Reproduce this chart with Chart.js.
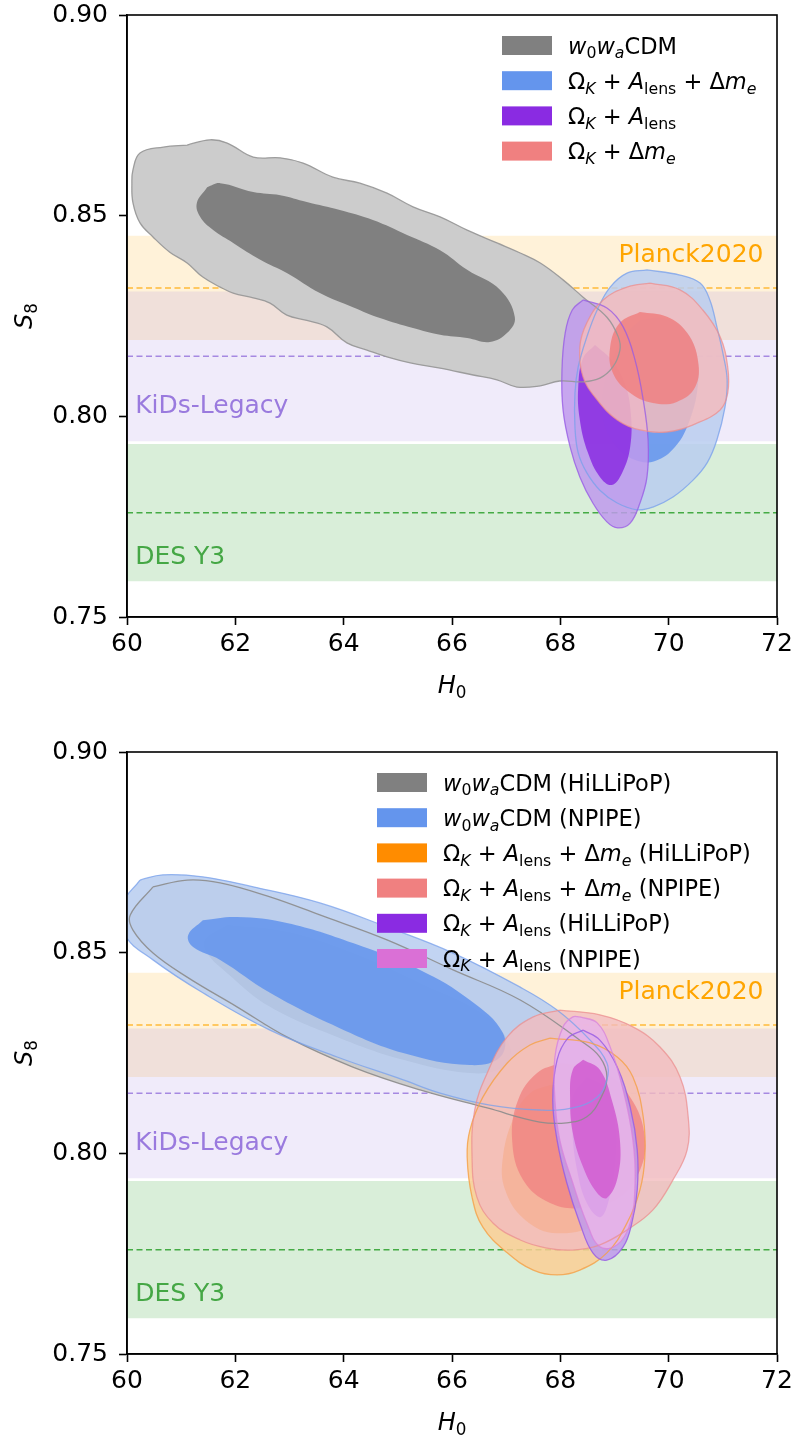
<!DOCTYPE html>
<html>
<head>
<meta charset="utf-8">
<script src="https://cdn.jsdelivr.net/npm/chart.js@4.4.1/dist/chart.umd.min.js"></script>
<style>
  html, body { margin: 0; padding: 0; background: #fff; overflow: hidden; }
  #wrap { position: relative; width: 795px; height: 1441px; overflow: hidden; }
  canvas { position: absolute; left: 0; }
  #top { top: -20px; }
  #bottom { top: 720px; }
</style>
</head>
<body>
<div id="wrap">
  <canvas id="top" width="815" height="740"></canvas>
  <canvas id="bottom" width="815" height="721"></canvas>
</div>
<script>
// axis ranges and ticks
const hRange = [60, 72];
const sRange = [0.75, 0.90];
const hStep = 2;
const sStep = 0.05;

// external S8 constraints (same in both panels)
const bandNames = ["Planck2020", "KiDs-Legacy", "DES Y3"];
const bandCentre = [0.832, 0.815, 0.776];
const bandLow = [0.819, 0.7938, 0.7589];
const bandHigh = [0.845, 0.8311, 0.7931];
const bandLabelH = [71.75, 60.15, 60.15];
const bandLabelS = [0.8385, 0.8008, 0.7632];

// ---- top panel contours, [H0, S8] ----
const w0waOuterTop = [[61.11,0.8676],[61.53,0.8689],[61.85,0.8681],[62.33,0.8646],[62.83,0.8644],[63.25,0.8631],[63.80,0.8596],[64.30,0.8581],[64.80,0.8556],[65.28,0.8522],[65.78,0.8497],[66.28,0.8464],[66.83,0.8432],[67.26,0.8407],[67.63,0.8382],[68.05,0.8340],[68.42,0.8297],[68.86,0.8247],[69.07,0.8198],[69.10,0.8165],[68.97,0.8123],[68.73,0.8095],[68.42,0.8086],[67.99,0.8088],[67.63,0.8076],[67.20,0.8073],[66.83,0.8091],[66.39,0.8103],[65.78,0.8120],[65.23,0.8133],[64.80,0.8148],[64.43,0.8165],[64.06,0.8183],[63.69,0.8223],[63.32,0.8239],[62.95,0.8252],[62.64,0.8282],[62.33,0.8295],[61.96,0.8307],[61.72,0.8322],[61.40,0.8347],[61.11,0.8382],[60.79,0.8409],[60.48,0.8447],[60.24,0.8482],[60.11,0.8532],[60.09,0.8581],[60.11,0.8614],[60.24,0.8656],[60.67,0.8671]];
const w0waInnerTop = [[61.48,0.8571],[61.72,0.8581],[62.33,0.8559],[62.83,0.8551],[63.32,0.8534],[63.93,0.8514],[64.54,0.8489],[65.17,0.8452],[65.78,0.8414],[66.28,0.8365],[66.89,0.8315],[67.16,0.8247],[67.02,0.8208],[66.70,0.8185],[66.28,0.8195],[65.78,0.8203],[65.28,0.8220],[64.67,0.8245],[64.17,0.8272],[63.56,0.8307],[62.95,0.8357],[62.46,0.8390],[61.96,0.8432],[61.59,0.8464],[61.35,0.8497],[61.29,0.8532]];
const okAlDmeOuterTop = [[69.60,0.8365],[70.21,0.8352],[70.58,0.8332],[70.76,0.8290],[70.89,0.8223],[71.00,0.8158],[71.08,0.8091],[71.04,0.8023],[70.89,0.7941],[70.71,0.7884],[70.45,0.7841],[70.08,0.7799],[69.71,0.7774],[69.42,0.7767],[69.05,0.7784],[68.73,0.7816],[68.49,0.7859],[68.33,0.7909],[68.27,0.7973],[68.27,0.8058],[68.33,0.8123],[68.49,0.8198],[68.68,0.8265],[68.92,0.8322],[69.23,0.8357]];
const okAlDmeInnerTop = [[69.47,0.8240],[69.93,0.8245],[70.30,0.8215],[70.52,0.8153],[70.54,0.8078],[70.39,0.7991],[70.12,0.7924],[69.75,0.7889],[69.38,0.7891],[69.01,0.7929],[68.79,0.7991],[68.79,0.8066],[68.95,0.8140],[69.19,0.8203]];
const okAlOuterTop = [[68.42,0.8290],[68.86,0.8270],[69.16,0.8223],[69.38,0.8140],[69.53,0.8041],[69.62,0.7941],[69.60,0.7849],[69.47,0.7784],[69.29,0.7734],[69.06,0.7722],[68.86,0.7737],[68.60,0.7784],[68.36,0.7849],[68.18,0.7924],[68.05,0.8016],[68.03,0.8115],[68.09,0.8208],[68.22,0.8265]];
const okAlInnerTop = [[68.64,0.8178],[68.95,0.8140],[69.19,0.8083],[69.30,0.8008],[69.29,0.7924],[69.14,0.7859],[68.95,0.7829],[68.73,0.7849],[68.51,0.7909],[68.36,0.7991],[68.33,0.8073],[68.42,0.8145]];
const okDmeOuterTop = [[69.66,0.8332],[70.21,0.8315],[70.63,0.8265],[70.95,0.8198],[71.09,0.8123],[71.09,0.8058],[70.95,0.8016],[70.52,0.7983],[69.97,0.7961],[69.47,0.7966],[69.05,0.7991],[68.68,0.8041],[68.42,0.8098],[68.36,0.8173],[68.49,0.8233],[68.79,0.8290],[69.23,0.8322]];
const okDmeInnerTop = [[69.47,0.8260],[69.97,0.8248],[70.34,0.8208],[70.54,0.8140],[70.49,0.8073],[70.15,0.8036],[69.71,0.8033],[69.29,0.8058],[68.97,0.8108],[68.92,0.8173],[69.10,0.8233]];

// ---- bottom panel contours, [H0, S8] ----
const w0waHilOuter = [[60.48,0.8664],[61.11,0.8681],[61.72,0.8674],[62.64,0.8639],[63.56,0.8594],[64.80,0.8532],[66.02,0.8457],[67.26,0.8382],[68.36,0.8282],[68.73,0.8240],[68.86,0.8190],[68.73,0.8133],[68.49,0.8091],[68.12,0.8076],[67.62,0.8078],[66.65,0.8113],[65.41,0.8158],[64.17,0.8215],[62.95,0.8290],[62.03,0.8365],[61.11,0.8439],[60.48,0.8499],[60.11,0.8556],[60.06,0.8594]];
const w0waHilInner = [[61.85,0.8569],[62.95,0.8552],[64.17,0.8499],[65.41,0.8424],[66.65,0.8340],[67.07,0.8265],[66.94,0.8215],[66.33,0.8200],[65.10,0.8233],[63.88,0.8290],[62.64,0.8365],[61.85,0.8449],[61.48,0.8499],[61.44,0.8532]];
const w0waNpOuter = [[60.24,0.8681],[60.66,0.8694],[61.40,0.8689],[62.33,0.8664],[63.56,0.8624],[64.80,0.8564],[66.02,0.8499],[67.26,0.8414],[67.94,0.8357],[68.55,0.8282],[68.86,0.8225],[68.86,0.8183],[68.68,0.8140],[68.23,0.8113],[67.62,0.8108],[66.70,0.8120],[65.78,0.8150],[65.10,0.8183],[63.88,0.8240],[62.64,0.8307],[61.40,0.8400],[60.48,0.8482],[59.96,0.8544],[59.91,0.8619]];
const w0waNpInner = [[61.40,0.8581],[62.03,0.8589],[62.95,0.8574],[64.17,0.8524],[65.41,0.8457],[66.33,0.8382],[66.94,0.8300],[66.89,0.8240],[66.33,0.8220],[65.10,0.8250],[63.88,0.8315],[62.64,0.8400],[61.72,0.8482],[61.22,0.8514],[61.13,0.8544]];
const okAlDmeHilOuter = [[67.81,0.8287],[68.55,0.8275],[69.05,0.8240],[69.34,0.8190],[69.53,0.8091],[69.56,0.7991],[69.47,0.7909],[69.23,0.7826],[68.86,0.7752],[68.36,0.7709],[67.94,0.7697],[67.50,0.7709],[67.02,0.7752],[66.57,0.7816],[66.37,0.7891],[66.28,0.7991],[66.33,0.8058],[66.57,0.8140],[67.02,0.8225],[67.44,0.8270]];
const okAlDmeHilInner = [[67.81,0.8170],[68.55,0.8153],[69.01,0.8096],[69.23,0.8008],[69.14,0.7909],[68.73,0.7829],[67.94,0.7801],[67.35,0.7834],[66.98,0.7909],[66.94,0.7991],[67.16,0.8096],[67.44,0.8150]];
const okAlDmeNpOuter = [[67.99,0.8357],[68.73,0.8345],[69.34,0.8315],[69.84,0.8265],[70.21,0.8190],[70.36,0.8091],[70.34,0.8008],[70.08,0.7934],[69.71,0.7859],[69.23,0.7809],[68.73,0.7772],[68.23,0.7759],[67.75,0.7764],[67.26,0.7784],[66.76,0.7826],[66.46,0.7891],[66.37,0.7991],[66.42,0.8108],[66.65,0.8200],[67.02,0.8290],[67.50,0.8340]];
const okAlDmeNpInner = [[67.99,0.8225],[68.73,0.8208],[69.29,0.8140],[69.56,0.8041],[69.47,0.7958],[69.10,0.7891],[68.42,0.7864],[67.81,0.7876],[67.31,0.7934],[67.11,0.8033],[67.22,0.8133],[67.57,0.8200]];
const okAlHilOuter = [[68.42,0.8307],[68.73,0.8282],[69.05,0.8215],[69.29,0.8115],[69.42,0.8008],[69.42,0.7909],[69.32,0.7826],[69.16,0.7767],[68.86,0.7734],[68.60,0.7752],[68.36,0.7826],[68.12,0.7926],[67.94,0.8033],[67.86,0.8133],[67.94,0.8233],[68.14,0.8287]];
const okAlHilInner = [[68.49,0.8190],[68.86,0.8158],[69.01,0.8076],[69.01,0.7976],[68.88,0.7876],[68.73,0.7841],[68.49,0.7876],[68.31,0.7958],[68.22,0.8058],[68.23,0.8140]];
const okAlNpOuter = [[68.36,0.8340],[68.68,0.8325],[68.92,0.8265],[69.16,0.8158],[69.34,0.8033],[69.38,0.7926],[69.29,0.7826],[69.05,0.7772],[68.73,0.7767],[68.49,0.7826],[68.23,0.7926],[67.99,0.8033],[67.90,0.8133],[67.90,0.8240],[68.05,0.8315],[68.23,0.8340]];
const okAlNpInner = [[68.42,0.8233],[68.73,0.8208],[68.95,0.8133],[69.10,0.8033],[69.06,0.7941],[68.86,0.7889],[68.68,0.7901],[68.42,0.7966],[68.23,0.8051],[68.18,0.8140],[68.23,0.8208]];

// legend texts: [text, flags] with i = italic, s = subscript
const lblW0wa = [["w","i"],["0","s"],["w","i"],["a","is"],["CDM",""]];
const lblOkAlDme = [["Ω",""],["K","is"],[" + ",""],["A","i"],["lens","s"],[" + ",""],["Δ",""],["m","i"],["e","is"]];
const lblOkAl = [["Ω",""],["K","is"],[" + ",""],["A","i"],["lens","s"]];
const lblOkDme = [["Ω",""],["K","is"],[" + ",""],["Δ",""],["m","i"],["e","is"]];
const hil = [[" (HiLLiPoP)",""]];
const np = [[" (NPIPE)",""]];

const FONT = '"DejaVu Sans", sans-serif';
const bandFill = ["rgba(255,165,0,0.15)", "rgba(147,112,219,0.14)", "rgba(44,160,44,0.18)"];
const bandLine = ["rgba(255,165,0,0.75)", "rgba(147,112,219,0.8)", "rgba(44,160,44,0.85)"];
const bandText = ["#ffa500", "#9a7ade", "#45a745"];

const topLayers = [
  { pts: w0waOuterTop, fill: "#cccccc", edge: "rgba(150,150,150,0.9)" },
  { pts: w0waInnerTop, fill: "#808080" },
  { pts: okAlDmeOuterTop, fill: "rgba(186,206,240,0.85)", edge: "rgba(120,160,235,0.75)" },
  { pts: okAlDmeInnerTop, fill: "rgba(100,149,237,0.85)" },
  { pts: okAlOuterTop, fill: "rgba(192,154,237,0.85)", edge: "rgba(150,90,228,0.75)" },
  { pts: okAlInnerTop, fill: "rgba(138,43,226,0.85)" },
  { pts: okDmeOuterTop, fill: "rgba(243,188,190,0.85)", edge: "rgba(235,140,140,0.7)" },
  { pts: okDmeInnerTop, fill: "rgba(240,128,128,0.85)" }
];
const bottomLayers = [
  { pts: w0waHilOuter, fill: "#cccccc", edge: "rgba(140,140,140,0.9)" },
  { pts: w0waHilInner, fill: "#808080" },
  { pts: w0waNpOuter, fill: "rgba(186,206,240,0.88)", edge: "rgba(120,160,235,0.75)" },
  { pts: w0waNpInner, fill: "rgba(100,149,237,0.88)" },
  { pts: okAlDmeHilOuter, fill: "rgba(251,207,149,0.85)", edge: "rgba(245,160,70,0.8)" },
  { pts: okAlDmeHilInner, fill: "rgba(255,140,0,0.85)" },
  { pts: okAlDmeNpOuter, fill: "rgba(243,188,190,0.8)", edge: "rgba(235,140,140,0.7)" },
  { pts: okAlDmeNpInner, fill: "rgba(240,128,128,0.75)" },
  { pts: okAlHilOuter, fill: "rgba(192,154,237,0.85)", edge: "rgba(150,90,228,0.8)" },
  { pts: okAlHilInner, fill: "rgba(138,43,226,0.85)" },
  { pts: okAlNpOuter, fill: "rgba(233,181,233,0.85)", edge: "rgba(215,130,220,0.75)" },
  { pts: okAlNpInner, fill: "rgba(210,95,210,0.9)" }
];
const topLegend = [
  { parts: lblW0wa, color: "#808080" },
  { parts: lblOkAlDme, color: "#6495ed" },
  { parts: lblOkAl, color: "#8a2be2" },
  { parts: lblOkDme, color: "#f08080" }
];
const bottomLegend = [
  { parts: lblW0wa.concat(hil), color: "#808080" },
  { parts: lblW0wa.concat(np), color: "#6495ed" },
  { parts: lblOkAlDme.concat(hil), color: "#ff8c00" },
  { parts: lblOkAlDme.concat(np), color: "#f08080" },
  { parts: lblOkAl.concat(hil), color: "#8a2be2" },
  { parts: lblOkAl.concat(np), color: "#da70d6" }
];

function richWidth(ctx, parts, size) {
  let w = 0;
  for (const [t, f] of parts) {
    const fs = f.includes("s") ? size * 0.7 : size;
    ctx.font = (f.includes("i") ? "italic " : "") + fs + "px " + FONT;
    w += ctx.measureText(t).width;
  }
  return w;
}

function drawRich(ctx, parts, x, y, size, color) {
  let cx = x;
  ctx.fillStyle = color;
  ctx.textBaseline = "alphabetic";
  ctx.textAlign = "left";
  for (const [t, f] of parts) {
    const sub = f.includes("s");
    const fs = sub ? size * 0.7 : size;
    ctx.font = (f.includes("i") ? "italic " : "") + fs + "px " + FONT;
    ctx.fillText(t, cx, sub ? y + size * 0.22 : y);
    cx += ctx.measureText(t).width;
  }
}

function decor(legend, legendX) {
  return {
    id: "decor",
    beforeDatasetDraw(chart, args) {
      const ds = chart.data.datasets[args.index];
      if (!ds.fillColor) return;
      const meta = args.meta;
      const line = meta.dataset;
      const a = chart.chartArea;
      const ctx = chart.ctx;
      line.updateControlPoints(a, meta.iScale.axis);
      ctx.save();
      ctx.beginPath();
      ctx.rect(a.left, a.top, a.right - a.left, a.bottom - a.top);
      ctx.clip();
      ctx.beginPath();
      if (typeof line.path === "function") {
        line.path(ctx);
      } else {
        meta.data.forEach((p, i) => (i ? ctx.lineTo(p.x, p.y) : ctx.moveTo(p.x, p.y)));
      }
      ctx.closePath();
      ctx.fillStyle = ds.fillColor;
      ctx.fill();
      ctx.restore();
    },
    afterDatasetsDraw(chart) {
      const ctx = chart.ctx;
      const xs = chart.scales.x, ys = chart.scales.y;
      ctx.save();
      ctx.font = "25px " + FONT;
      ctx.textBaseline = "alphabetic";
      bandNames.forEach((name, i) => {
        ctx.fillStyle = bandText[i];
        ctx.textAlign = i === 0 ? "right" : "left";
        ctx.fillText(name, xs.getPixelForValue(bandLabelH[i]), ys.getPixelForValue(bandLabelS[i]));
      });
      ctx.restore();
    },
    afterDraw(chart) {
      const ctx = chart.ctx;
      const a = chart.chartArea;
      ctx.save();
      // frame
      ctx.strokeStyle = "#000";
      ctx.lineWidth = 1.6;
      ctx.strokeRect(a.left, a.top, a.right - a.left, a.bottom - a.top);
      // axis titles
      const hT = [["H","i"],["0","s"]];
      const w = richWidth(ctx, hT, 24);
      drawRich(ctx, hT, (a.left + a.right) / 2 - w / 2, a.bottom + 76, 24, "#000");
      const sT = [["S","i"],["8","s"]];
      const ws = richWidth(ctx, sT, 24);
      ctx.save();
      ctx.translate(32, (a.top + a.bottom) / 2);
      ctx.rotate(-Math.PI / 2);
      drawRich(ctx, sT, -ws / 2, 0, 24, "#000");
      ctx.restore();
      // legend
      legend.forEach((item, i) => {
        const cy = a.top + 30.5 + i * 35.2;
        ctx.fillStyle = item.color;
        ctx.fillRect(legendX, cy - 9.5, 50, 19);
        drawRich(ctx, item.parts, legendX + 66, cy + 8, 22.5, "#000");
      });
      ctx.restore();
    }
  };
}

function toXY(pts) {
  return pts.concat([pts[0]]).map(p => ({ x: p[0], y: p[1] }));
}

function makePanel(id, layers, legend, legendX, padTop, axisH) {
  const datasets = [];
  bandLow.forEach((lo, i) => {
    datasets.push({
      data: hRange.map(h => ({ x: h, y: bandHigh[i] })),
      borderWidth: 0, pointRadius: 0, fill: { value: lo },
      backgroundColor: bandFill[i], order: 1000 - i
    });
    datasets.push({
      data: hRange.map(h => ({ x: h, y: bandCentre[i] })),
      borderColor: bandLine[i], borderWidth: 1.5, borderDash: [6, 3.5],
      pointRadius: 0, fill: false, order: 900 - i
    });
  });
  layers.forEach((c, i) => {
    datasets.push({
      data: toXY(c.pts), fillColor: c.fill, borderWidth: 0,
      pointRadius: 0, tension: 0.4, fill: false, order: 500 - i
    });
    if (c.edge) {
      datasets.push({
        data: toXY(c.pts), borderColor: c.edge, borderWidth: 1.3,
        pointRadius: 0, tension: 0.4, fill: false, order: 100 - i
      });
    }
  });

  new Chart(document.getElementById(id), {
    type: "line",
    data: { datasets },
    options: {
      responsive: false,
      animation: false,
      devicePixelRatio: 1,
      events: [],
      layout: { padding: { top: padTop, right: 38, bottom: 0, left: 0 } },
      plugins: { legend: { display: false }, tooltip: { enabled: false } },
      scales: {
        x: {
          type: "linear", min: hRange[0], max: hRange[1],
          afterFit: s => { s.height = axisH; },
          ticks: {
            stepSize: hStep, autoSkip: false, maxRotation: 0, padding: 4,
            color: "#000", font: { family: FONT, size: 25 },
            callback: v => String(v)
          },
          grid: { drawOnChartArea: false, drawTicks: true, tickLength: 8, tickWidth: 1.6, tickColor: "#000" },
          border: { display: true, color: "#000", width: 1.6 }
        },
        y: {
          type: "linear", min: sRange[0], max: sRange[1],
          afterFit: s => { s.width = 127; },
          ticks: {
            stepSize: sStep, autoSkip: false, padding: 11,
            color: "#000", font: { family: FONT, size: 25 },
            callback: v => v.toFixed(2)
          },
          grid: { drawOnChartArea: false, drawTicks: true, tickLength: 8, tickWidth: 1.6, tickColor: "#000" },
          border: { display: true, color: "#000", width: 1.6 }
        }
      }
    },
    plugins: [decor(legend, legendX)]
  });
}

makePanel("top", topLayers, topLegend, 502, 35, 103);
makePanel("bottom", bottomLayers, bottomLegend, 377, 32, 87);
</script>
</body>
</html>
